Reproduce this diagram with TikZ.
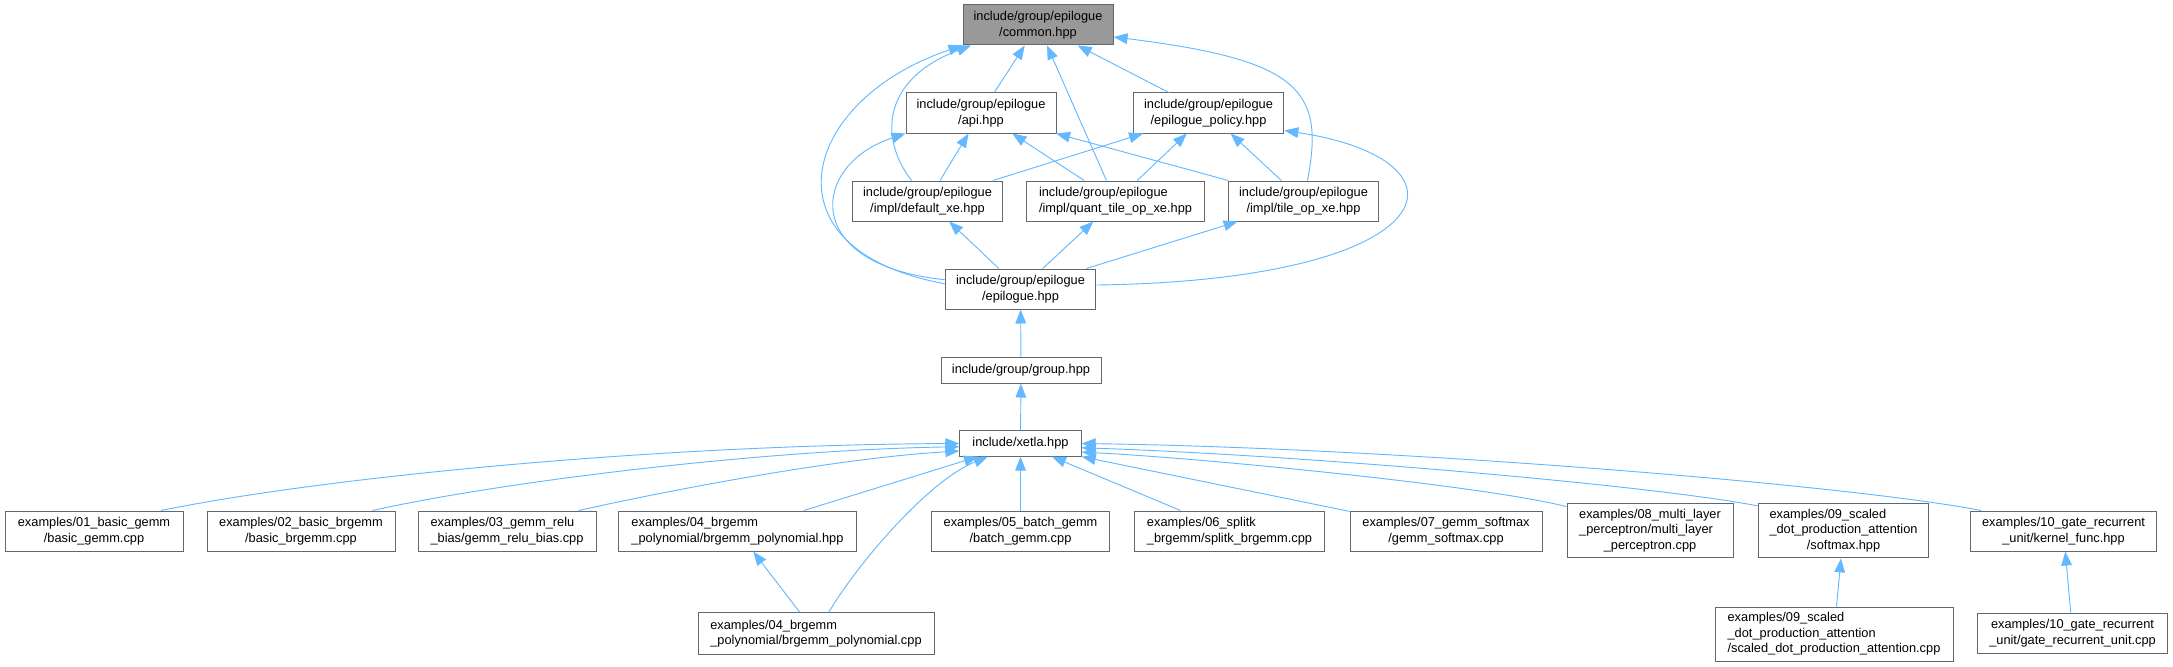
\documentclass[tikz,border=0pt]{standalone}
\usepackage{fontspec}
\setmainfont{Liberation Sans}
\usetikzlibrary{arrows.meta}
\definecolor{edgeblue}{HTML}{63B8FF}
\definecolor{boxline}{HTML}{666666}
\definecolor{rootfill}{HTML}{999999}

\begin{document}
\begin{tikzpicture}[x=0.75pt, y=-0.75pt,
      file/.style={draw=boxline, line width=0.75pt, rectangle, fill=white, align=center,
                   inner xsep=6pt, inner ysep=2pt, minimum height=30pt,
                   font=\fontsize{9.6}{11.6}\selectfont},
      root/.style={file, fill=rootfill},
      edge/.style={draw=edgeblue, line width=0.7pt, -{Triangle[length=10.5pt, width=8pt]}}
    ]
    \useasboundingbox (0,0) rectangle (2173,667);

    \node[root, minimum width=112.5pt] (common)   at (1038,25)    {include/group/epilogue\\/common.hpp};
    \node[file, minimum width=112.5pt] (api)      at (981,113)    {include/group/epilogue\\/api.hpp};
    \node[file, minimum width=113pt]   (policy)   at (1208.5,113) {include/group/epilogue\\/epilogue\_policy.hpp};
    \node[file, minimum width=113pt]   (defxe)    at (927.5,201)  {include/group/epilogue\\/impl/default\_xe.hpp};
    \node[file, minimum width=133pt, align=left] (quant) at (1115.5,201) {include/group/epilogue\\/impl/quant\_tile\_op\_xe.hpp};
    \node[file, minimum width=113pt]   (tileop)   at (1303.5,201) {include/group/epilogue\\/impl/tile\_op\_xe.hpp};
    \node[file, minimum width=113pt]   (epilogue) at (1020.5,289) {include/group/epilogue\\/epilogue.hpp};
    \node[file, minimum width=120pt, minimum height=19.5pt] (group) at (1021,370)    {include/group/group.hpp};
    \node[file, minimum width=91pt, minimum height=19pt]    (xetla) at (1020.5,443.5) {include/xetla.hpp};

    \node[file, minimum width=133.5pt] (basicgemm)   at (94,531)     {examples/01\_basic\_gemm\\/basic\_gemm.cpp};
    \node[file, minimum width=141pt]   (basicbrgemm) at (301,531)    {examples/02\_basic\_brgemm\\/basic\_brgemm.cpp};
    \node[file, minimum width=133.5pt, align=left] (relubias) at (507,531) {examples/03\_gemm\_relu\\\_bias/gemm\_relu\_bias.cpp};
    \node[file, minimum width=178pt, align=left]   (polyhpp)  at (737.5,531) {examples/04\_brgemm\\\_polynomial/brgemm\_polynomial.hpp};
    \node[file, minimum width=134pt]   (batchgemm)   at (1020.5,531) {examples/05\_batch\_gemm\\/batch\_gemm.cpp};
    \node[file, minimum width=143pt, align=left]   (splitk)   at (1229.5,531) {examples/06\_splitk\\\_brgemm/splitk\_brgemm.cpp};
    \node[file, minimum width=144pt]   (softmaxcpp)  at (1446,531)   {examples/07\_gemm\_softmax\\/gemm\_softmax.cpp};
    \node[file, minimum width=124.5pt, minimum height=41pt] (mlp) at (1650,530.5)
      {\begin{tabular}{@{}l@{}}examples/08\_multi\_layer\\\_perceptron/multi\_layer\\\multicolumn{1}{@{}c@{}}{\_perceptron.cpp}\end{tabular}};
    \node[file, minimum width=128pt, minimum height=41pt]   (softmaxhpp) at (1843.5,530.5)
      {\begin{tabular}{@{}l@{}}examples/09\_scaled\\\_dot\_production\_attention\\\multicolumn{1}{@{}c@{}}{/softmax.hpp}\end{tabular}};
    \node[file, minimum width=140pt]   (kernelfunc)  at (2063.5,531) {examples/10\_gate\_recurrent\\\_unit/kernel\_func.hpp};

    \node[file, minimum width=177pt, minimum height=31pt, align=left] (polycpp) at (816,633.5) {examples/04\_brgemm\\\_polynomial/brgemm\_polynomial.cpp};
    \node[file, minimum width=178.5pt, minimum height=40.5pt, align=left] (sdpa) at (1834,634) {examples/09\_scaled\\\_dot\_production\_attention\\/scaled\_dot\_production\_attention.cpp};
    \node[file, minimum width=143pt]   (gru)         at (2072.5,633) {examples/10\_gate\_recurrent\\\_unit/gate\_recurrent\_unit.cpp};

    \draw[edge] (api) -- (common);
    \draw[edge] (policy) -- (common);
    \draw[edge] (quant) -- (common);
    \draw[edge] (defxe) .. controls (880,140) and (880,80) .. (common.197);
    \draw[edge] (tileop) .. controls (1325,90) and (1300,60) .. (common.351);
    \draw[edge] (epilogue.176) .. controls (760,250) and (800,100) .. (common.south west);

    \draw[edge] (defxe) -- (api);
    \draw[edge] (defxe) -- (policy);
    \draw[edge] (quant) -- (api);
    \draw[edge] (quant) -- (policy);
    \draw[edge] (tileop) -- (api);
    \draw[edge] (tileop) -- (policy);
    \draw[edge] (epilogue.173) .. controls (800,265) and (810,165) .. (api.south west);
    \draw[edge] (epilogue.3) .. controls (1450,280) and (1480,160) .. (policy.347);

    \draw[edge] (epilogue) -- (defxe);
    \draw[edge] (epilogue) -- (quant);
    \draw[edge] (epilogue) -- (tileop);
    \draw[edge] (group) -- (epilogue);
    \draw[edge] (xetla) -- (group);

    \draw[edge] (basicgemm.17) .. controls (320,478) and (650,445) .. (xetla.180);
    \draw[edge] (basicbrgemm.16) .. controls (500,482) and (760,450) .. (xetla.183);
    \draw[edge] (relubias.16) .. controls (680,488) and (840,458) .. (xetla.187);
    \draw[edge] (polyhpp) -- (xetla);
    \draw[edge] (polycpp) .. controls (860,560) and (930,480) .. (xetla);
    \draw[edge] (batchgemm) -- (xetla);
    \draw[edge] (splitk) -- (xetla);
    \draw[edge] (softmaxcpp) -- (xetla.south east);
    \draw[edge] (mlp.164) .. controls (1480,485) and (1200,458) .. (xetla.352);
    \draw[edge] (softmaxhpp.164) .. controls (1650,485) and (1300,455) .. (xetla.356);
    \draw[edge] (kernelfunc.166) .. controls (1850,485) and (1400,448) .. (xetla.0);

    \draw[edge] (polycpp) -- (polyhpp);
    \draw[edge] (sdpa) -- (softmaxhpp);
    \draw[edge] (gru) -- (kernelfunc);
\end{tikzpicture}
\end{document}
